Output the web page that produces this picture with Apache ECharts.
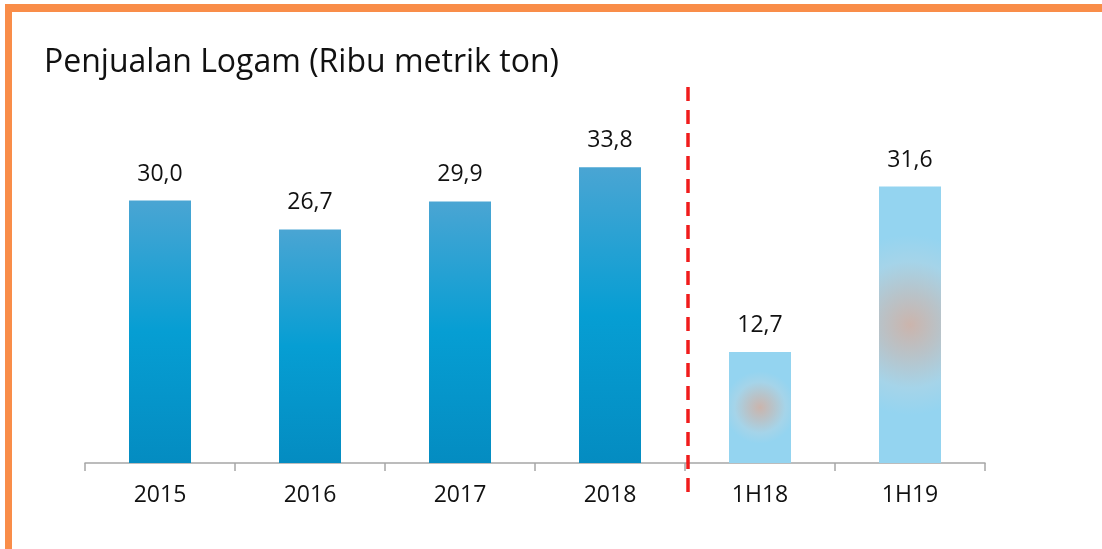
<!DOCTYPE html>
<html>
<head>
<meta charset="utf-8">
<script src="https://cdn.jsdelivr.net/npm/echarts@6/dist/echarts.min.js"></script>
<style>
  html, body { margin: 0; padding: 0; background: #fff; }
  #frame { position: relative; width: 1102px; height: 549px; overflow: hidden; }
  #frame .top { position: absolute; left: 5px; top: 4px; right: 0; height: 8px; background: #f98d49; }
  #frame .left { position: absolute; left: 5px; top: 4px; bottom: 0; width: 7px; background: #f98d49; }
  #chart { position: absolute; left: 0; top: 0; width: 1102px; height: 549px; }
</style>
</head>
<body>
<div id="frame">
  <div class="top"></div>
  <div class="left"></div>
  <div id="chart"></div>
</div>
<script>
const categories = ['2015', '2016', '2017', '2018', '1H18', '1H19']
const sales = [30.0, 26.7, 29.9, 33.8, 12.7, 31.6]
const halfYear = [false, false, false, false, true, true]
// divider sits between 2018 and 1H18 (axis units, 0..6)
const dividerX = [4.02, 4.02]
const dividerY = [0, 1]

const fullYearColor = new echarts.graphic.LinearGradient(0, 0, 0, 1, [
  { offset: 0, color: '#4aa5d3' },
  { offset: 0.5, color: '#069ed3' },
  { offset: 1, color: '#048cc1' },
])
// soft reddish spot in the middle of the half-year bars, grows with bar height
const halfYearColor = (v) =>
  new echarts.graphic.RadialGradient(0.5, 0.5, v * 0.046, [
    { offset: 0, color: '#cbb4ac' },
    { offset: 0.35, color: '#b8c3c9' },
    { offset: 0.7, color: '#a5d4e9' },
    { offset: 1, color: '#94d4f0' },
  ])

const chart = echarts.init(document.getElementById('chart'))

chart.setOption({
  animation: false,
  title: {
    text: 'Penjualan Logam (Ribu metrik ton)',
    left: 39,
    top: 42,
    textStyle: {
      fontFamily: 'Open Sans',
      fontWeight: 'normal',
      fontSize: 32,
      color: '#111',
    },
  },
  grid: [
    { left: 85, top: 113, width: 900, height: 350 },
    { left: 85, top: 83, width: 900, height: 409 },
  ],
  xAxis: [
    {
      type: 'category',
      gridIndex: 0,
      data: categories,
      axisLine: { lineStyle: { color: '#a6a6a6', width: 1.5 } },
      axisTick: { show: true, length: 8, lineStyle: { color: '#a6a6a6', width: 1.5 } },
      axisLabel: {
        color: '#111',
        fontFamily: 'Open Sans',
        fontSize: 23,
        margin: 21,
      },
    },
    { type: 'value', gridIndex: 1, min: 0, max: 6, show: false },
  ],
  yAxis: [
    { type: 'value', gridIndex: 0, min: 0, max: 40, show: false },
    { type: 'value', gridIndex: 1, min: 0, max: 1, show: false },
  ],
  series: [
    {
      type: 'bar',
      xAxisIndex: 0,
      yAxisIndex: 0,
      barWidth: 62,
      data: sales.map((v, i) => ({
        value: v,
        itemStyle: { color: halfYear[i] ? halfYearColor(v) : fullYearColor },
      })),
      label: {
        show: true,
        position: 'top',
        distance: 15,
        color: '#111',
        fontFamily: 'Open Sans',
        fontSize: 23,
        formatter: (p) => p.value.toFixed(1).replace('.', ','),
      },
    },
    {
      type: 'line',
      xAxisIndex: 1,
      yAxisIndex: 1,
      data: dividerX.map((x, i) => [x, dividerY[i]]),
      symbol: 'none',
      lineStyle: { color: '#f01c1c', width: 3.5, type: [14, 9] },
      z: 5,
    },
  ],
})
</script>
</body>
</html>
